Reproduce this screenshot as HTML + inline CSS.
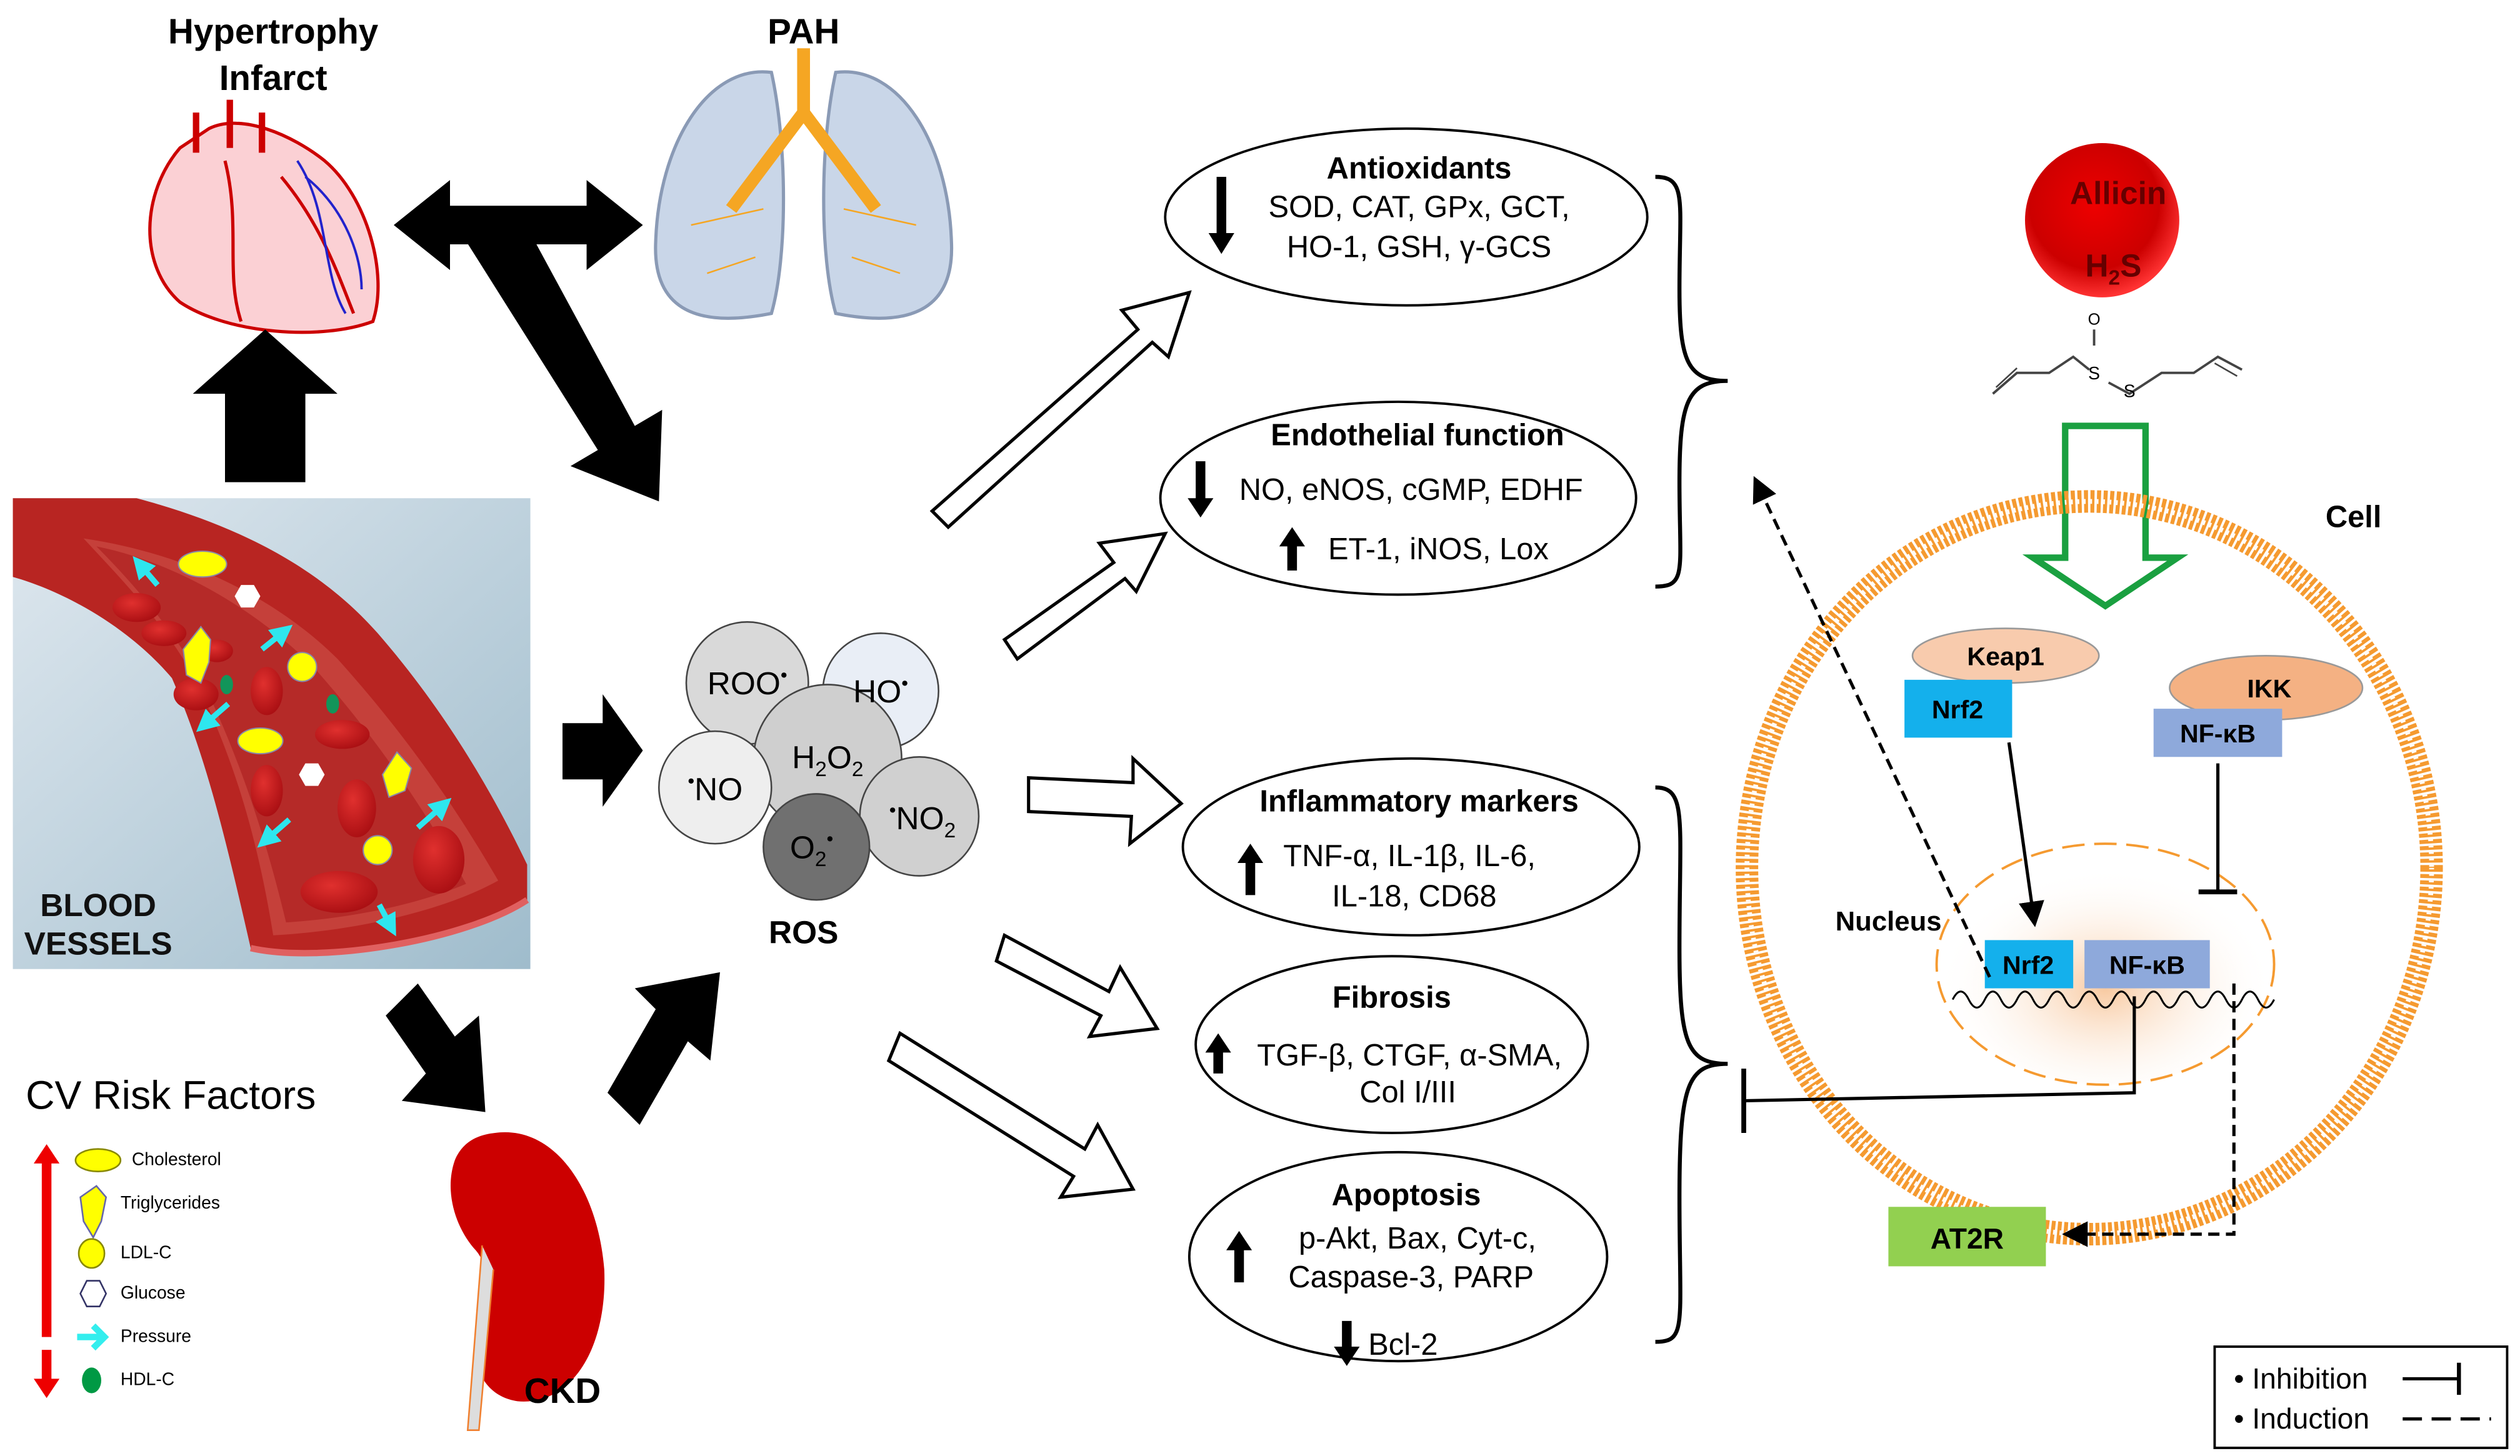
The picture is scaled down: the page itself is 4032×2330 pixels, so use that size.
<!DOCTYPE html>
<html><head><meta charset="utf-8"><style>
html,body{margin:0;padding:0;background:#fff;}
svg{display:block;}
text{font-family:"Liberation Sans",Arial,sans-serif;}
</style></head><body>
<svg width="4032" height="2330" viewBox="0 0 1568 906" xmlns="http://www.w3.org/2000/svg">
<defs>
<marker id="ah" markerWidth="8" markerHeight="8" refX="7" refY="4" orient="auto"><path d="M0,0 L8,4 L0,8 z" fill="#000"/></marker>
<marker id="ahc" markerWidth="4" markerHeight="4" refX="2.5" refY="2" orient="auto"><path d="M0,0 L4,2 L0,4 z" fill="#2ee6ee"/></marker>
<radialGradient id="nuc" cx="0.5" cy="0.6" r="0.5"><stop offset="0" stop-color="#f8c9a0"/><stop offset="1" stop-color="#fff" stop-opacity="0"/></radialGradient>
<radialGradient id="red" cx="0.45" cy="0.4" r="0.6"><stop offset="0" stop-color="#e00"/><stop offset="0.7" stop-color="#c00"/><stop offset="1" stop-color="#f33"/></radialGradient>
<linearGradient id="bg" x1="0" y1="0" x2="1" y2="1"><stop offset="0" stop-color="#dfe8ef"/><stop offset="1" stop-color="#9fbccc"/></linearGradient>
<radialGradient id="rbc" cx="0.4" cy="0.35" r="0.7"><stop offset="0" stop-color="#e0302e"/><stop offset="1" stop-color="#a80e12"/></radialGradient>
</defs>

<!-- titles -->
<text x="170" y="27" font-size="22" font-weight="bold" text-anchor="middle">Hypertrophy</text>
<text x="170" y="56" font-size="22" font-weight="bold" text-anchor="middle">Infarct</text>
<text x="500" y="27" font-size="22" font-weight="bold" text-anchor="middle">PAH</text>

<!-- heart -->
<path d="M112,92 C88,120 86,165 112,188 C142,208 200,212 232,200 C242,170 228,122 202,100 C182,84 150,70 130,80 Z" fill="#fbd0d4" stroke="#c00" stroke-width="2"/>
<path d="M122,70 L122,95 M143,62 L143,92 M163,70 L163,95" stroke="#c00" stroke-width="4"/>
<path d="M140,100 C150,140 140,170 150,200 M175,110 C200,140 210,170 220,195" stroke="#c00" stroke-width="2" fill="none"/>
<path d="M185,100 C205,130 200,170 215,195 M190,110 C215,130 225,160 225,180" stroke="#22c" stroke-width="1.5" fill="none"/>

<!-- lungs -->
<path d="M480,45 C440,40 410,90 408,150 C406,190 430,205 480,195 C490,160 490,90 480,45Z" fill="#c9d6e8" stroke="#8a9ab5" stroke-width="2"/>
<path d="M520,45 C560,40 590,90 592,150 C594,190 570,205 520,195 C510,160 510,90 520,45Z" fill="#c9d6e8" stroke="#8a9ab5" stroke-width="2"/>
<path d="M500,30 L500,70 M500,70 L470,110 M500,70 L530,110 M470,110 L455,130 M530,110 L545,130" stroke="#f5a623" stroke-width="8" fill="none"/>
<path d="M430,140 L475,130 M525,130 L570,140 M440,170 L470,160 M530,160 L560,170" stroke="#f5a623" stroke-width="1" fill="none"/>

<!-- black arrows -->
<path d="M245,140 L280,112 L280,128 L365,128 L365,112 L400,140 L365,168 L365,152 L280,152 L280,168 Z" fill="#000"/>
<path d="M290,150 L330,145 L395,265 L412,255 L410,312 L355,290 L372,280 Z" fill="#000"/>
<path d="M140,300 L140,245 L120,245 L165,205 L210,245 L190,245 L190,300 Z" fill="#000"/>
<path d="M350,450 L375,450 L375,432 L400,467 L375,502 L375,485 L350,485 Z" fill="#000"/>
<path d="M240,632 L260,612 L283,645 L298,632 L302,692 L250,685 L265,668 Z" fill="#000"/>
<path d="M378,680 L398,700 L428,648 L442,660 L448,605 L395,615 L408,628 Z" fill="#000"/>

<!-- blood vessel -->
<rect x="8" y="310" width="322" height="293" fill="url(#bg)"/>
<path d="M8,310 L85,310 C160,330 205,360 235,394 C275,440 305,490 328,538 L328,560 C290,585 200,600 156,590 C140,520 128,470 107,422 C80,390 40,368 8,359 Z" fill="#b82522"/>
<path d="M52,335 C120,345 175,375 210,410 C255,460 285,505 310,548 C270,570 210,580 170,582 C160,520 145,470 120,420 C100,385 75,360 52,335Z" fill="#c5403a"/>
<path d="M60,340 C110,350 160,380 195,415 C235,460 265,505 290,550 C255,565 210,572 178,574 C165,520 150,475 128,428 C110,395 85,365 60,340Z" fill="#b52a28"/>
<path d="M156,590 C200,600 290,585 328,560" fill="none" stroke="#e06060" stroke-width="4"/>
<g fill="url(#rbc)">
<ellipse cx="85" cy="378" rx="15" ry="9"/><ellipse cx="102" cy="394" rx="14" ry="8"/><ellipse cx="122" cy="432" rx="14" ry="10"/>
<ellipse cx="166" cy="430" rx="10" ry="15"/><ellipse cx="213" cy="457" rx="17" ry="9"/><ellipse cx="166" cy="492" rx="10" ry="16"/>
<ellipse cx="222" cy="503" rx="12" ry="18"/><ellipse cx="273" cy="535" rx="16" ry="21"/><ellipse cx="211" cy="555" rx="24" ry="13"/>
<ellipse cx="135" cy="405" rx="10" ry="7"/>
</g>
<g fill="#ff0" stroke="#88a" stroke-width="0.8">
<ellipse cx="126" cy="351" rx="15" ry="8"/><ellipse cx="162" cy="461" rx="14" ry="8"/>
<polygon points="125,390 131,398 130,412 125,425 116,420 114,404"/><polygon points="247,468 256,478 252,492 242,496 238,482"/>
<circle cx="188" cy="415" r="9"/><circle cx="235" cy="529" r="9"/>
</g>
<g fill="#fff"><polygon points="150,364 158,364 162,371 158,378 150,378 146,371"/><polygon points="190,475 198,475 202,482 198,489 190,489 186,482"/></g>
<g fill="#12955a"><ellipse cx="141" cy="426" rx="4" ry="6"/><ellipse cx="207" cy="438" rx="4" ry="6"/></g>
<g stroke="#2ee6ee" stroke-width="3.5" fill="none" marker-end="url(#ahc)">
<path d="M98,364 L86,350"/><path d="M163,404 L178,392"/><path d="M142,438 L126,452"/><path d="M180,510 L164,524"/><path d="M260,515 L277,500"/><path d="M236,563 L244,578"/>
</g>
<text x="25" y="570" font-size="20" font-weight="bold" fill="#111">BLOOD</text>
<text x="15" y="594" font-size="20" font-weight="bold" fill="#111">VESSELS</text>

<!-- ROS -->
<g stroke="#444" stroke-width="1">
<circle cx="465" cy="425" r="38" fill="#d9d9d9"/>
<circle cx="548" cy="430" r="36" fill="#e9eef6"/>
<circle cx="515" cy="472" r="46" fill="#cfcfcf"/>
<circle cx="445" cy="490" r="35" fill="#eeeeee"/>
<circle cx="572" cy="508" r="37" fill="#d0d0d0"/>
<circle cx="508" cy="527" r="33" fill="#707070"/>
</g>
<g font-size="20" text-anchor="middle">
<text x="465" y="432">ROO<tspan font-size="12" dy="-8">•</tspan></text>
<text x="548" y="437">HO<tspan font-size="12" dy="-8">•</tspan></text>
<text x="515" y="478">H<tspan font-size="13" dy="5">2</tspan><tspan dy="-5">O</tspan><tspan font-size="13" dy="5">2</tspan></text>
<text x="445" y="498"><tspan font-size="12" dy="-8">•</tspan><tspan dy="8">NO</tspan></text>
<text x="574" y="516"><tspan font-size="12" dy="-8">•</tspan><tspan dy="8">NO</tspan><tspan font-size="13" dy="5">2</tspan></text>
<text x="505" y="534">O<tspan font-size="13" dy="5">2</tspan><tspan font-size="12" dy="-13">•</tspan></text>
</g>
<text x="500" y="587" font-size="20" font-weight="bold" text-anchor="middle">ROS</text>

<!-- kidney -->
<path d="M308,705 C345,700 372,740 376,790 C378,840 355,875 322,872 C296,868 290,840 300,815 C306,798 302,785 296,778 C284,765 276,742 283,722 C288,710 298,706 308,705Z" fill="#c00"/>
<path d="M300,775 L291,890 L298,890 L307,790" fill="#ddd" stroke="#f08030" stroke-width="1"/>
<text x="350" y="873" font-size="22" font-weight="bold" text-anchor="middle">CKD</text>

<!-- CV risk -->
<text x="16" y="690" font-size="25">CV Risk Factors</text>
<rect x="26" y="722" width="6" height="110" fill="#e00"/>
<polygon points="21,724 29,712 37,724" fill="#e00"/>
<rect x="26" y="840" width="6" height="20" fill="#e00"/>
<polygon points="21,858 29,870 37,858" fill="#e00"/>
<ellipse cx="61" cy="722" rx="14" ry="7" fill="#ff0" stroke="#880"/>
<polygon points="60,738 66,745 63,760 58,770 52,760 50,745" fill="#ff0" stroke="#66a"/>
<ellipse cx="57" cy="780" rx="8" ry="9" fill="#ff0" stroke="#880"/>
<polygon points="54,797 62,797 66,805 62,813 54,813 50,805" fill="#fff" stroke="#336"/>
<path d="M48,832 L64,832 M58,825 L65,832 L58,839" stroke="#3ee" stroke-width="4" fill="none"/>
<ellipse cx="57" cy="859" rx="6" ry="8" fill="#094"/>
<g font-size="11"><text x="82" y="725">Cholesterol</text><text x="75" y="752">Triglycerides</text><text x="75" y="783">LDL-C</text><text x="75" y="808">Glucose</text><text x="75" y="835">Pressure</text><text x="75" y="862">HDL-C</text></g>

<!-- hollow arrows -->
<g fill="#fff" stroke="#000" stroke-width="2">
<path d="M580,318 L708,205 L698,193 L740,182 L727,222 L717,213 L590,328 Z"/>
<path d="M625,398 L693,350 L684,338 L725,332 L707,368 L700,360 L633,410 Z"/>
<path d="M640,484 L705,487 L705,472 L735,500 L703,525 L704,508 L640,505 Z"/>
<path d="M625,582 L690,617 L697,602 L720,640 L678,645 L685,632 L620,598 Z"/>
<path d="M560,643 L675,715 L683,700 L705,740 L660,745 L668,732 L553,660 Z"/>
</g>

<!-- ellipses -->
<g fill="#fff" stroke="#000" stroke-width="1.5">
<ellipse cx="875" cy="135" rx="150" ry="55"/>
<ellipse cx="870" cy="310" rx="148" ry="60"/>
<ellipse cx="878" cy="527" rx="142" ry="55"/>
<ellipse cx="866" cy="650" rx="122" ry="55"/>
<ellipse cx="870" cy="782" rx="130" ry="65"/>
</g>
<g font-size="19" text-anchor="middle">
<text x="883" y="111" font-weight="bold">Antioxidants</text>
<text x="883" y="135">SOD, CAT, GPx, GCT,</text>
<text x="883" y="160">HO-1,  GSH, γ-GCS</text>
<text x="882" y="277" font-weight="bold">Endothelial function</text>
<text x="878" y="311">NO, eNOS, cGMP, EDHF</text>
<text x="895" y="348">ET-1, iNOS, Lox</text>
<text x="883" y="505" font-weight="bold">Inflammatory markers</text>
<text x="877" y="539">TNF-α, IL-1β, IL-6,</text>
<text x="880" y="564">IL-18,  CD68</text>
<text x="866" y="627" font-weight="bold">Fibrosis</text>
<text x="877" y="663">TGF-β, CTGF, α-SMA,</text>
<text x="876" y="686">Col I/III</text>
<text x="875" y="750" font-weight="bold">Apoptosis</text>
<text x="882" y="777">p-Akt, Bax, Cyt-c,</text>
<text x="878" y="801">Caspase-3, PARP</text>
<text x="873" y="843">Bcl-2</text>
</g>
<g fill="#000">
<path d="M757,110 L763,110 L763,145 L768,145 L760,158 L752,145 L757,145Z"/>
<path d="M744,287 L750,287 L750,310 L755,310 L747,322 L739,310 L744,310Z"/>
<path d="M801,355 L807,355 L807,340 L812,340 L804,328 L796,340 L801,340Z"/>
<path d="M775,557 L781,557 L781,537 L786,537 L778,525 L770,537 L775,537Z"/>
<path d="M755,668 L761,668 L761,655 L766,655 L758,643 L750,655 L755,655Z"/>
<path d="M768,798 L774,798 L774,778 L779,778 L771,766 L763,778 L768,778Z"/>
<path d="M835,822 L841,822 L841,838 L846,838 L838,850 L830,838 L835,838Z"/>
</g>

<!-- braces -->
<path d="M1030,110 C1050,110 1045,125 1045,180 C1045,225 1050,237 1075,237 C1050,237 1045,250 1045,300 C1045,355 1050,365 1030,365" fill="none" stroke="#000" stroke-width="2.5"/>
<path d="M1030,490 C1050,490 1045,510 1045,590 C1045,650 1050,662 1075,662 C1050,662 1045,675 1045,745 C1045,825 1050,835 1030,835" fill="none" stroke="#000" stroke-width="2.5"/>

<!-- allicin -->
<circle cx="1308" cy="137" r="48" fill="url(#red)"/>
<text x="1318" y="127" font-size="20" font-weight="bold" fill="#600" text-anchor="middle">Allicin</text>
<text x="1315" y="172" font-size="20" font-weight="bold" fill="#600" text-anchor="middle">H<tspan font-size="13" dy="5">2</tspan><tspan dy="-5">S</tspan></text>
<path d="M1240,245 L1255,232 L1275,232 L1290,222 L1300,230 M1312,238 L1325,245 L1345,232 L1365,232 L1380,222 L1395,230" stroke="#444" stroke-width="1.5" fill="none"/>
<path d="M1242,241 L1255,229 M1378,226 L1392,234" stroke="#444" stroke-width="1" fill="none"/>
<path d="M1303,215 L1303,205" stroke="#444" stroke-width="1.5"/>
<text x="1303" y="202" font-size="10" text-anchor="middle">O</text>
<text x="1303" y="236" font-size="11" text-anchor="middle">S</text>
<text x="1325" y="247" font-size="11" text-anchor="middle">S</text>

<!-- green arrow -->
<path d="M1285,265 L1335,265 L1335,347 L1355,347 L1310,377 L1265,347 L1285,347 Z" fill="#fff" stroke="#1aa040" stroke-width="4"/>

<!-- cell -->
<ellipse cx="1300" cy="540" rx="213" ry="228" fill="none" stroke="#f59a30" stroke-width="14" stroke-dasharray="2.5 1.5"/>
<ellipse cx="1300" cy="540" rx="213" ry="228" fill="none" stroke="#fff" stroke-width="3" stroke-dasharray="1 3"/>
<text x="1447" y="328" font-size="19" font-weight="bold">Cell</text>

<!-- nucleus -->
<ellipse cx="1310" cy="600" rx="105" ry="75" fill="url(#nuc)"/>
<ellipse cx="1310" cy="600" rx="105" ry="75" fill="none" stroke="#f59a30" stroke-width="1.5" stroke-dasharray="14 6"/>
<text x="1142" y="579" font-size="17" font-weight="bold">Nucleus</text>
<path d="M1215,622 q5,-10 10,0 q5,10 10,0 q5,-10 10,0 q5,10 10,0 q5,-10 10,0 q5,10 10,0 q5,-10 10,0 q5,10 10,0 q5,-10 10,0 q5,10 10,0 q5,-10 10,0 q5,10 10,0 q5,-10 10,0 q5,10 10,0 q5,-10 10,0 q5,10 10,0 q5,-10 10,0 q5,10 10,0 q5,-10 10,0 q5,10 10,0" fill="none" stroke="#000" stroke-width="1.2"/>

<ellipse cx="1248" cy="408" rx="58" ry="17" fill="#f8cbad" stroke="#999"/>
<text x="1248" y="414" font-size="16" font-weight="bold" text-anchor="middle">Keap1</text>
<rect x="1185" y="423" width="67" height="36" fill="#14b0ec"/>
<text x="1218" y="447" font-size="16" font-weight="bold" text-anchor="middle">Nrf2</text>
<ellipse cx="1410" cy="428" rx="60" ry="20" fill="#f4b183" stroke="#999"/>
<text x="1412" y="434" font-size="16" font-weight="bold" text-anchor="middle">IKK</text>
<rect x="1340" y="441" width="80" height="30" fill="#8ea9db"/>
<text x="1380" y="462" font-size="16" font-weight="bold" text-anchor="middle">NF-κB</text>
<rect x="1235" y="585" width="55" height="30" fill="#14b0ec"/>
<text x="1262" y="606" font-size="16" font-weight="bold" text-anchor="middle">Nrf2</text>
<rect x="1297" y="585" width="78" height="30" fill="#8ea9db"/>
<text x="1336" y="606" font-size="16" font-weight="bold" text-anchor="middle">NF-κB</text>

<!-- lines -->
<line x1="1250" y1="462" x2="1266" y2="575" stroke="#000" stroke-width="2" marker-end="url(#ah)"/>
<line x1="1380" y1="475" x2="1380" y2="555" stroke="#000" stroke-width="2"/>
<line x1="1368" y1="555" x2="1392" y2="555" stroke="#000" stroke-width="3"/>
<line x1="1238" y1="608" x2="1092" y2="298" stroke="#000" stroke-width="2" stroke-dasharray="7 4" marker-end="url(#ah)"/>
<polyline points="1328,620 1328,680 1085,685" fill="none" stroke="#000" stroke-width="2"/>
<line x1="1085" y1="665" x2="1085" y2="705" stroke="#000" stroke-width="3"/>
<polyline points="1390,612 1390,768 1285,768" fill="none" stroke="#000" stroke-width="2" stroke-dasharray="7 4" marker-end="url(#ah)"/>
<rect x="1175" y="751" width="98" height="37" fill="#92d050"/>
<text x="1224" y="777" font-size="18" font-weight="bold" text-anchor="middle">AT2R</text>

<!-- legend -->
<rect x="1378" y="838" width="182" height="63" fill="#fff" stroke="#000" stroke-width="1.5"/>
<text x="1390" y="864" font-size="18">•  Inhibition</text>
<text x="1390" y="889" font-size="18">•  Induction</text>
<line x1="1495" y1="858" x2="1530" y2="858" stroke="#000" stroke-width="2"/>
<line x1="1530" y1="848" x2="1530" y2="868" stroke="#000" stroke-width="2.5"/>
<line x1="1495" y1="883" x2="1550" y2="883" stroke="#000" stroke-width="2" stroke-dasharray="12 6"/>
</svg>
</body></html>
